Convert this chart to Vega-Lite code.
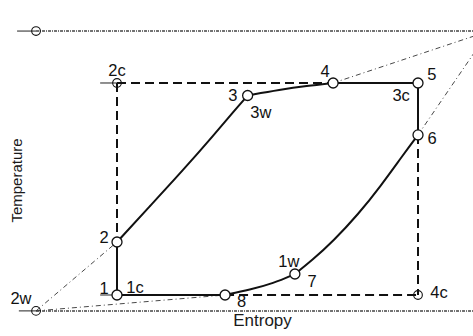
{
  "$schema": "https://vega.github.io/schema/vega-lite/v6.json",
  "width": 473,
  "height": 336,
  "padding": 0,
  "autosize": {"type": "none"},
  "config": {"view": {"stroke": null}},
  "datasets": {
    "cycle": [
      {"seg": "1-8", "s": 0, "T": 0}, {"seg": "1-8", "s": 3.59, "T": 0},
      {"seg": "8-7", "s": 3.59, "T": 0}, {"seg": "8-7", "s": 4.42, "T": 0.25}, {"seg": "8-7", "s": 5.19, "T": 0.55}, {"seg": "8-7", "s": 5.91, "T": 0.99},
      {"seg": "7-6", "s": 5.91, "T": 0.99}, {"seg": "7-6", "s": 6.47, "T": 1.62}, {"seg": "7-6", "s": 7.19, "T": 2.55}, {"seg": "7-6", "s": 8.02, "T": 3.82}, {"seg": "7-6", "s": 8.74, "T": 5.1}, {"seg": "7-6", "s": 9.51, "T": 6.62}, {"seg": "7-6", "s": 10, "T": 7.55},
      {"seg": "4-3", "s": 7.18, "T": 10}, {"seg": "4-3", "s": 6.3, "T": 9.86}, {"seg": "4-3", "s": 5.42, "T": 9.68}, {"seg": "4-3", "s": 4.34, "T": 9.41},
      {"seg": "3-2", "s": 4.34, "T": 9.41}, {"seg": "3-2", "s": 3.85, "T": 8.62}, {"seg": "3-2", "s": 3.25, "T": 7.6}, {"seg": "3-2", "s": 2.19, "T": 5.88}, {"seg": "3-2", "s": 1.1, "T": 4.2}, {"seg": "3-2", "s": 0, "T": 2.5}
    ],
    "straights": [
      {"seg": "5-4", "s": 10, "T": 10}, {"seg": "5-4", "s": 7.18, "T": 10},
      {"seg": "6-5", "s": 10, "T": 7.55}, {"seg": "6-5", "s": 10, "T": 10},
      {"seg": "2-1", "s": 0, "T": 2.5}, {"seg": "2-1", "s": 0, "T": 0}
    ],
    "carnot": [
      {"seg": "2c-2", "s": 0, "T": 10}, {"seg": "2c-2", "s": 0, "T": 2.5},
      {"seg": "2c-5", "s": 0, "T": 10}, {"seg": "2c-5", "s": 10, "T": 10},
      {"seg": "6-4c", "s": 10, "T": 7.55}, {"seg": "6-4c", "s": 10, "T": 0},
      {"seg": "8-4c", "s": 3.59, "T": 0}, {"seg": "8-4c", "s": 10, "T": 0}
    ],
    "leads": [
      {"seg": "a", "s": -0.56, "T": 10}, {"seg": "a", "s": 0, "T": 10},
      {"seg": "b", "s": -0.56, "T": 0}, {"seg": "b", "s": 0, "T": 0},
      {"seg": "c", "s": -3.32, "T": 12.45}, {"seg": "c", "s": -2.69, "T": 12.45},
      {"seg": "d", "s": -3.26, "T": -0.75}, {"seg": "d", "s": -2.69, "T": -0.75}
    ],
    "reservoirs": [
      {"seg": "hot", "s": -2.69, "T": 12.45}, {"seg": "hot", "s": 12.5, "T": 12.45},
      {"seg": "cold", "s": -2.69, "T": -0.75}, {"seg": "cold", "s": 12.5, "T": -0.75}
    ],
    "rays": [
      {"seg": "r1", "s": 7.18, "T": 10}, {"seg": "r1", "s": 12.36, "T": 12.45},
      {"seg": "r2", "s": 10, "T": 7.55}, {"seg": "r2", "s": 12.36, "T": 12.45},
      {"seg": "l1", "s": -2.69, "T": -0.75}, {"seg": "l1", "s": 0, "T": 2.5},
      {"seg": "l2", "s": -2.69, "T": -0.75}, {"seg": "l2", "s": 3.59, "T": 0}
    ],
    "states": [
      {"id": "1", "s": 0, "T": 0}, {"id": "2", "s": 0, "T": 2.5},
      {"id": "3", "s": 4.34, "T": 9.41}, {"id": "4", "s": 7.18, "T": 10},
      {"id": "5", "s": 10, "T": 10}, {"id": "6", "s": 10, "T": 7.55},
      {"id": "7", "s": 5.91, "T": 0.99}, {"id": "8", "s": 3.59, "T": 0}
    ],
    "corners": [
      {"id": "2c", "s": 0, "T": 10}, {"id": "4c", "s": 10, "T": 0},
      {"id": "hot", "s": -2.69, "T": 12.45}, {"id": "2w", "s": -2.69, "T": -0.75}
    ],
    "labels": [
      {"label": "2c", "s": 0, "T": 10.33},
      {"label": "3", "s": 3.85, "T": 9.15},
      {"label": "3w", "s": 4.78, "T": 8.35},
      {"label": "4", "s": 6.91, "T": 10.28},
      {"label": "5", "s": 10.46, "T": 10.14},
      {"label": "3c", "s": 9.44, "T": 9.17},
      {"label": "6", "s": 10.47, "T": 7.12},
      {"label": "1w", "s": 5.71, "T": 1.33},
      {"label": "7", "s": 6.48, "T": 0.39},
      {"label": "4c", "s": 10.7, "T": -0.13},
      {"label": "8", "s": 4.14, "T": -0.58},
      {"label": "2", "s": -0.43, "T": 2.47},
      {"label": "1", "s": -0.43, "T": 0.05},
      {"label": "1c", "s": 0.6, "T": 0.09},
      {"label": "2w", "s": -3.19, "T": -0.42}
    ]
  },
  "encoding": {
    "x": {
      "field": "s", "type": "quantitative",
      "scale": {"domain": [-3.887, 11.827], "nice": false, "zero": false},
      "axis": {"title": "Entropy", "domain": false, "ticks": false, "labels": false, "grid": false,
               "titleX": 262, "titleY": -11, "titleBaseline": "alphabetic", "titleFont": "Liberation Sans",
               "titleFontSize": 17, "titleFontWeight": "normal", "titleColor": "#1a1a1a"}
    },
    "y": {
      "field": "T", "type": "quantitative",
      "scale": {"domain": [-1.934, 13.915], "nice": false, "zero": false},
      "axis": {"title": "Temperature", "domain": false, "ticks": false, "labels": false, "grid": false,
               "titleX": 21, "titleY": 180, "titleAngle": 270, "titleBaseline": "alphabetic", "titleFont": "Liberation Sans",
               "titleFontSize": 15, "titleFontWeight": "normal", "titleColor": "#1a1a1a"}
    }
  },
  "layer": [
    {
      "data": {"name": "reservoirs"},
      "mark": {"type": "line", "clip": true, "stroke": "#444", "strokeWidth": 1.5, "strokeDash": [3, 1, 1, 1]},
      "encoding": {"detail": {"field": "seg"}}
    },
    {
      "data": {"name": "rays"},
      "mark": {"type": "line", "clip": true, "stroke": "#333", "strokeWidth": 0.9, "strokeDash": [5, 3, 1, 3]},
      "encoding": {"detail": {"field": "seg"}}
    },
    {
      "data": {"name": "leads"},
      "mark": {"type": "line", "stroke": "#222", "strokeWidth": 1},
      "encoding": {"detail": {"field": "seg"}}
    },
    {
      "data": {"name": "carnot"},
      "mark": {"type": "line", "stroke": "#111", "strokeWidth": 2, "strokeDash": [9, 5]},
      "encoding": {"detail": {"field": "seg"}}
    },
    {
      "data": {"name": "straights"},
      "mark": {"type": "line", "stroke": "#111", "strokeWidth": 2},
      "encoding": {"detail": {"field": "seg"}}
    },
    {
      "data": {"name": "cycle"},
      "mark": {"type": "line", "interpolate": "basis", "stroke": "#111", "strokeWidth": 2},
      "encoding": {"detail": {"field": "seg"}}
    },
    {
      "data": {"name": "corners"},
      "mark": {"type": "point", "shape": "circle", "filled": false, "fill": null, "stroke": "#111", "strokeWidth": 1.1, "size": 75, "opacity": 1}
    },
    {
      "data": {"name": "states"},
      "mark": {"type": "point", "shape": "circle", "filled": true, "fill": "#ffffff", "stroke": "#111", "strokeWidth": 1.3, "size": 100, "opacity": 1}
    },
    {
      "data": {"name": "labels"},
      "mark": {"type": "text", "font": "Liberation Sans", "fontSize": 16.5, "align": "center", "baseline": "alphabetic", "color": "#111"},
      "encoding": {"text": {"field": "label"}}
    }
  ]
}
